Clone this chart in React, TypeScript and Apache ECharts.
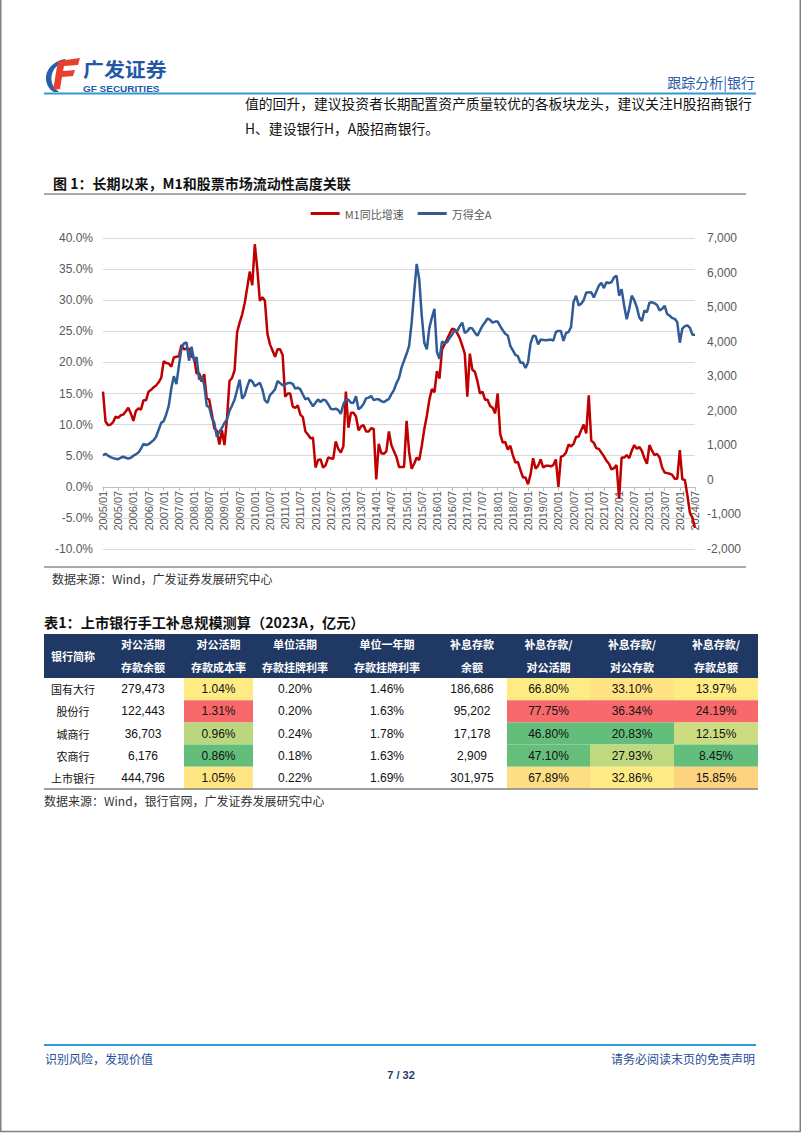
import React, { useEffect, useRef } from 'react';
import * as echarts from 'echarts';

// ---------- chart data ----------
const firstYear = 2005;
const lastYear = 2024;
const lastMonth = 7;
const categories: string[] = [];
for (let y = firstYear; y <= lastYear; y++) {
  for (let m = 1; m <= 12; m++) {
    if (y === lastYear && m > lastMonth) break;
    categories.push(`${y}/${String(m).padStart(2, '0')}`);
  }
}

// M1 同比增速 (%), monthly, 2005/01 - 2024/07
const m1Growth: number[] = [
  15.3, 10.5, 9.9, 10.0, 10.4, 11.3, 11.1, 11.5, 11.6, 12.1, 12.7, 11.8,
  10.6, 12.2, 12.6, 12.4, 13.9, 13.9, 15.3, 15.6, 16.0, 16.3, 16.8, 17.5,
  20.2, 19.9, 19.8, 19.3, 20.8, 20.9, 21.0, 22.8, 22.1, 22.2, 22.2, 21.0,
  20.7, 18.2, 18.3, 16.9, 18.1, 14.2, 14.0, 11.8, 9.4, 9.0, 6.8, 9.1,
  6.7, 10.9, 17.0, 17.5, 18.7, 24.8, 26.4, 27.7, 29.5, 32.0, 34.6, 32.4,
  39.0, 35.0, 29.9, 30.5, 29.9, 24.6, 22.9, 21.9, 20.9, 22.1, 22.1, 21.2,
  14.5, 15.0, 15.0, 12.9, 12.7, 13.1, 11.6, 11.2, 8.9, 8.4, 7.8, 7.9,
  3.1, 4.3, 4.4, 3.1, 3.5, 4.7, 4.6, 4.5, 7.3, 6.1, 5.5, 6.5,
  15.3, 9.5, 11.9, 11.9, 11.3, 9.1, 9.7, 9.9, 8.9, 8.9, 9.4, 9.3,
  1.2, 6.9, 5.4, 5.3, 5.7, 8.9, 6.7, 5.7, 4.8, 3.2, 3.2, 3.2,
  10.6, 5.6, 2.9, 3.7, 4.7, 4.3, 6.6, 9.3, 11.4, 14.0, 15.7, 15.2,
  18.6, 17.4, 22.1, 22.9, 23.7, 24.6, 25.4, 25.3, 24.7, 23.9, 22.7, 21.4,
  14.5, 21.4, 18.8, 18.5, 17.0, 15.0, 15.3, 14.0, 14.0, 13.0, 12.7, 11.8,
  15.0, 8.5, 7.1, 7.2, 6.0, 6.6, 5.1, 3.9, 4.0, 2.7, 1.5, 1.5,
  0.4, 2.0, 4.6, 2.9, 3.4, 4.4, 3.1, 3.4, 3.4, 3.3, 3.5, 4.4,
  0.0, 4.8, 5.0, 5.5, 6.8, 6.5, 6.9, 8.0, 8.1, 9.1, 10.0, 8.6,
  14.7, 7.4, 7.1, 6.2, 6.1, 5.5, 4.9, 4.2, 3.7, 2.8, 3.0, 3.5,
  -1.9, 4.7, 4.7, 5.1, 4.6, 5.8, 6.7, 6.1, 6.4, 5.8, 4.6, 3.7,
  6.7, 5.8, 5.1, 5.3, 4.7, 3.1, 2.3, 2.2, 2.1, 1.9, 1.3, 1.3,
  5.9, 1.2, 1.1, -1.4, -4.2, -5.0, -6.6,
];

// 万得全A (点), monthly, 2005/01 - 2024/07
const windAllA: number[] = [
  705, 760, 700, 660, 630, 610, 600, 640, 670, 640, 620, 640,
  700, 740, 790, 900, 1040, 1010, 1030, 1090, 1150, 1250, 1450, 1650,
  1700, 1900, 2150, 2650, 3000, 2770, 3300, 3800, 3950, 3980, 3450, 3850,
  3450, 3550, 2900, 3000, 2750, 2150, 2100, 1800, 1650, 1250, 1400, 1500,
  1650, 1750, 2000, 2150, 2320, 2600, 2900, 2350, 2450, 2700, 2900, 2850,
  2713, 2760, 2810, 2620, 2300, 2230, 2450, 2530, 2620, 2860, 2800, 2740,
  2760, 2800, 2810, 2780, 2640, 2670, 2620, 2470, 2330, 2370, 2250, 2130,
  2230, 2330, 2250, 2320, 2300, 2190, 2060, 2040, 2060, 2020, 1910, 2180,
  2330, 2320, 2230, 2230, 2420, 2040, 2100, 2200, 2360, 2380, 2430, 2310,
  2330, 2330, 2280, 2250, 2300, 2340, 2480, 2600, 2800, 2950, 3250, 3450,
  3650, 3880, 4550, 5430, 6250, 5800, 4750, 3970, 3780, 4400, 4700, 4950,
  3700, 3500, 4000, 3970, 3980, 4110, 4200, 4330, 4300, 4450, 4550, 4250,
  4300, 4400, 4380, 4260, 4170, 4320, 4460, 4560, 4670, 4630, 4550, 4580,
  4580, 4450, 4330, 4230, 4180, 3880, 3750, 3620, 3580, 3390, 3400, 3240,
  3400, 3950, 4170, 4160, 3920, 4060, 4050, 4040, 4050, 4060, 4030, 4280,
  4310, 4310, 4020, 4250, 4280, 4420, 5150, 5330, 5050, 5100, 5200, 5420,
  5420, 5430, 5280, 5450, 5620, 5700, 5550, 5720, 5700, 5720, 5860, 5910,
  5330, 5520, 5040, 4650, 4950, 5330, 5200, 5000, 4700, 4600, 4900, 4850,
  5130, 5140, 5110, 5060, 4900, 4950, 5040, 4800, 4750, 4680, 4660, 4560,
  3970, 4380, 4450, 4470, 4400, 4200, 4200,
];

const seriesNames = ['M1同比增速', '万得全A'];

// ---------- table data ----------
const tableHeaders: string[][] = [
  ['银行简称'],
  ['对公活期', '存款余额'],
  ['对公活期', '存款成本率'],
  ['单位活期', '存款挂牌利率'],
  ['单位一年期', '存款挂牌利率'],
  ['补息存款', '余额'],
  ['补息存款/', '对公活期'],
  ['补息存款/', '对公存款'],
  ['补息存款/', '存款总额'],
];
const bankNames = ['国有大行', '股份行', '城商行', '农商行', '上市银行'];
const corpDemandBalance = [279473, 122443, 36703, 6176, 444796];
const corpDemandCost = [1.04, 1.31, 0.96, 0.86, 1.05];
const demandListedRate = [0.2, 0.2, 0.24, 0.18, 0.22];
const oneYearListedRate = [1.46, 1.63, 1.78, 1.63, 1.69];
const subsidyBalance = [186686, 95202, 17178, 2909, 301975];
const subsidyToCorpDemand = [66.8, 77.75, 46.8, 47.1, 67.89];
const subsidyToCorpDeposit = [33.1, 36.34, 20.83, 27.93, 32.86];
const subsidyToTotal = [13.97, 24.19, 12.15, 8.45, 15.85];

// ---------- style helpers ----------
const SANS = "'Liberation Sans', 'Noto Sans CJK SC', sans-serif";
const CJK = "'Noto Sans CJK SC', 'Liberation Sans', sans-serif";

const GREEN = [99, 190, 123];
const YELLOW = [255, 235, 132];
const RED = [248, 105, 107];
function mix(a: number[], b: number[], t: number) {
  const c = a.map((v, i) => Math.round(v + (b[i] - v) * t));
  return `rgb(${c[0]},${c[1]},${c[2]})`;
}
function scaleColor(values: number[], v: number) {
  const s = [...values].sort((a, b) => a - b);
  const min = s[0];
  const max = s[s.length - 1];
  const mid = s[Math.floor(s.length / 2)];
  if (v <= mid) return mix(GREEN, YELLOW, mid === min ? 1 : (v - min) / (mid - min));
  return mix(YELLOW, RED, (v - mid) / (max - mid));
}

function txt(x: number, y: number, s: string, font: string, fill: string, align = 'left', scaleX = 1) {
  return {
    type: 'text',
    x,
    y,
    scaleX,
    silent: true,
    style: {
      text: s,
      font,
      fill,
      align,
      verticalAlign: 'middle',
      textAlign: align,
      textVerticalAlign: 'middle',
    },
  };
}
function hline(x1: number, x2: number, y: number, stroke: string, lineWidth: number) {
  return { type: 'line', silent: true, shape: { x1, y1: y, x2, y2: y }, style: { stroke, lineWidth } };
}

const SWOOSH =
  'M20 2 C8 4 0 13 1 23 C2 29 5 33 9 35 L14 35 C8 31 5 24 7 17 C9 10 14 6 22 5 Z';
const FSHAPE = 'M13 4 L35 1 L33 8 L19 9 L18 14 L30 13 L28 19 L17 20 L15 32 L8 33 Z';

// grid geometry (pixels)
const GRID_TOP = 238;
const GRID_BOTTOM_Y = 549;
const LEFT_MIN = -10;
const LEFT_MAX = 40;

export default function App() {
  const ref = useRef<HTMLDivElement>(null);

  useEffect(() => {
    if (!ref.current) return;
    echarts.graphic.registerShape('gfSwoosh', echarts.graphic.extendPath(SWOOSH, {}));
    echarts.graphic.registerShape('gfF', echarts.graphic.extendPath(FSHAPE, {}));
    const chart = echarts.init(ref.current, undefined, { renderer: 'svg' });

    const g: any[] = [];
    // page frame
    g.push({
      type: 'rect',
      silent: true,
      shape: { x: 0.75, y: -4, width: 799.5, height: 1135.5 },
      style: { fill: 'none', stroke: '#808080', lineWidth: 1.5 },
    });
    // header
    g.push({ type: 'gfSwoosh', x: 45, y: 57, silent: true, style: { fill: '#2460AC' } });
    g.push({ type: 'gfF', x: 45, y: 57, silent: true, style: { fill: '#E8402E' } });
    g.push(txt(83, 69, '广发证券', `bold 19px ${CJK}`, '#2358A6', 'left', 1.1));
    g.push(txt(83, 88.5, 'GF SECURITIES', `bold 9.5px ${SANS}`, '#2358A6', 'left', 1.05));
    g.push(txt(755, 82, '跟踪分析|银行', `14px ${CJK}`, '#2B5BA8', 'right'));
    g.push(hline(44, 756, 93.5, '#2E9AD6', 2));
    // body text
    g.push(
      txt(245, 103, '值的回升，建议投资者长期配置资产质量较优的各板块龙头，建议关注H股招商银行', `13.8px ${CJK}`, '#111'),
    );
    g.push(txt(245, 128, 'H、建设银行H，A股招商银行。', `13.8px ${CJK}`, '#111'));
    // figure title and rules
    g.push(txt(53, 183, '图 1：长期以来，M1和股票市场流动性高度关联', `bold 14px ${CJK}`, '#111'));
    g.push(hline(44, 746, 194, '#8C8C8C', 1.5));
    g.push(hline(44, 746, 567, '#8C8C8C', 1.5));
    g.push(txt(52, 578, '数据来源：Wind，广发证券发展研究中心', `12px ${CJK}`, '#333'));

    // table
    g.push(txt(44, 622, '表1：上市银行手工补息规模测算（2023A，亿元）', `bold 14.2px ${CJK}`, '#111'));
    const colX = [44, 102, 184, 253, 337, 437, 507, 590, 674, 758];
    const headTop = 634;
    const headBottom = 678;
    const rowH = 22.2;
    g.push({
      type: 'rect',
      silent: true,
      shape: { x: colX[0], y: headTop, width: colX[9] - colX[0], height: headBottom - headTop },
      style: { fill: '#203864' },
    });
    tableHeaders.forEach((h, c) => {
      const cx = (colX[c] + colX[c + 1]) / 2;
      if (h.length === 1) g.push(txt(cx, 656, h[0], `bold 11px ${CJK}`, '#fff', 'center'));
      else {
        g.push(txt(cx, 644, h[0], `bold 11px ${CJK}`, '#fff', 'center'));
        g.push(txt(cx, 667, h[1], `bold 11px ${CJK}`, '#fff', 'center'));
      }
    });
    const fmtInt = (v: number) => v.toLocaleString('en-US');
    const fmtPct = (v: number) => v.toFixed(2) + '%';
    const columns: { vals: number[]; fmt: (v: number) => string; colored: boolean }[] = [
      { vals: corpDemandBalance, fmt: fmtInt, colored: false },
      { vals: corpDemandCost, fmt: fmtPct, colored: true },
      { vals: demandListedRate, fmt: fmtPct, colored: false },
      { vals: oneYearListedRate, fmt: fmtPct, colored: false },
      { vals: subsidyBalance, fmt: fmtInt, colored: false },
      { vals: subsidyToCorpDemand, fmt: fmtPct, colored: true },
      { vals: subsidyToCorpDeposit, fmt: fmtPct, colored: true },
      { vals: subsidyToTotal, fmt: fmtPct, colored: true },
    ];
    bankNames.forEach((name, r) => {
      const y0 = headBottom + r * rowH;
      const cy = y0 + rowH / 2;
      g.push(txt((colX[0] + colX[1]) / 2, cy, name, `11px ${CJK}`, '#111', 'center'));
      columns.forEach((col, k) => {
        const c = k + 1;
        if (col.colored) {
          g.push({
            type: 'rect',
            silent: true,
            shape: { x: colX[c], y: y0, width: colX[c + 1] - colX[c], height: rowH },
            style: { fill: scaleColor(col.vals, col.vals[r]) },
          });
        }
        g.push(txt((colX[c] + colX[c + 1]) / 2, cy, col.fmt(col.vals[r]), `12px ${SANS}`, '#111', 'center'));
      });
    });
    const tableBottom = headBottom + bankNames.length * rowH;
    g.push(hline(colX[0], colX[9], tableBottom, '#7F7F7F', 1.5));
    g.push(txt(44, tableBottom + 11, '数据来源：Wind，银行官网，广发证券发展研究中心', `12px ${CJK}`, '#333'));

    // footer
    g.push(hline(44, 756, 1045, '#2E9AD6', 2));
    g.push(txt(45, 1058, '识别风险，发现价值', `12px ${CJK}`, '#1F4E99'));
    g.push(txt(755, 1058, '请务必阅读末页的免责声明', `12px ${CJK}`, '#1F4E99', 'right'));
    g.push(txt(401, 1075, '7 / 32', `bold 11px ${SANS}`, '#1F3A70', 'center'));

    const axisLabel = { color: '#595959', fontSize: 12, fontFamily: SANS };
    // distance of the zero line above the grid bottom
    const zeroOffset = ((0 - LEFT_MIN) / (LEFT_MAX - LEFT_MIN)) * (GRID_BOTTOM_Y - GRID_TOP);

    chart.setOption({
      animation: false,
      backgroundColor: '#ffffff',
      textStyle: { fontFamily: SANS },
      legend: {
        top: 203,
        left: 'center',
        icon: 'rect',
        itemWidth: 29,
        itemHeight: 3,
        itemGap: 14,
        data: seriesNames,
        textStyle: { color: '#595959', fontSize: 11, fontFamily: CJK },
      },
      grid: { left: 103, right: 107, top: GRID_TOP, bottom: 1133 - GRID_BOTTOM_Y, containLabel: false },
      xAxis: {
        type: 'category',
        data: categories,
        boundaryGap: false,
        offset: -zeroOffset,
        axisLine: { onZero: false, lineStyle: { color: '#BFBFBF', width: 1 } },
        axisTick: { show: true, interval: 5, length: 4, lineStyle: { color: '#BFBFBF' } },
        axisLabel: { interval: 5, rotate: 90, fontSize: 11, color: '#595959', margin: 4, fontFamily: SANS },
        splitLine: { show: false },
      },
      yAxis: [
        {
          type: 'value',
          min: LEFT_MIN,
          max: LEFT_MAX,
          interval: 5,
          axisLabel: { ...axisLabel, margin: 10, formatter: (v: number) => v.toFixed(1) + '%' },
          splitLine: { show: true, lineStyle: { color: '#D9D9D9', width: 1 } },
          axisLine: { show: false },
          axisTick: { show: false },
        },
        {
          type: 'value',
          min: -2000,
          max: 7000,
          interval: 1000,
          axisLabel: { ...axisLabel, margin: 12, formatter: (v: number) => v.toLocaleString('en-US') },
          splitLine: { show: false },
          axisLine: { show: false },
          axisTick: { show: false },
        },
      ],
      series: [
        {
          name: seriesNames[0],
          type: 'line',
          yAxisIndex: 0,
          data: m1Growth,
          showSymbol: false,
          symbol: 'none',
          lineStyle: { color: '#C00000', width: 2.5 },
          itemStyle: { color: '#C00000' },
        },
        {
          name: seriesNames[1],
          type: 'line',
          yAxisIndex: 1,
          data: windAllA,
          showSymbol: false,
          symbol: 'none',
          lineStyle: { color: '#2F5B96', width: 2.5 },
          itemStyle: { color: '#2F5B96' },
        },
      ],
      graphic: { elements: g },
    });

    return () => {
      chart.dispose();
    };
  }, []);

  return (
    <div
      ref={ref}
      style={{ position: 'absolute', left: 0, top: 0, width: 802, height: 1133, background: '#fff' }}
    />
  );
}
